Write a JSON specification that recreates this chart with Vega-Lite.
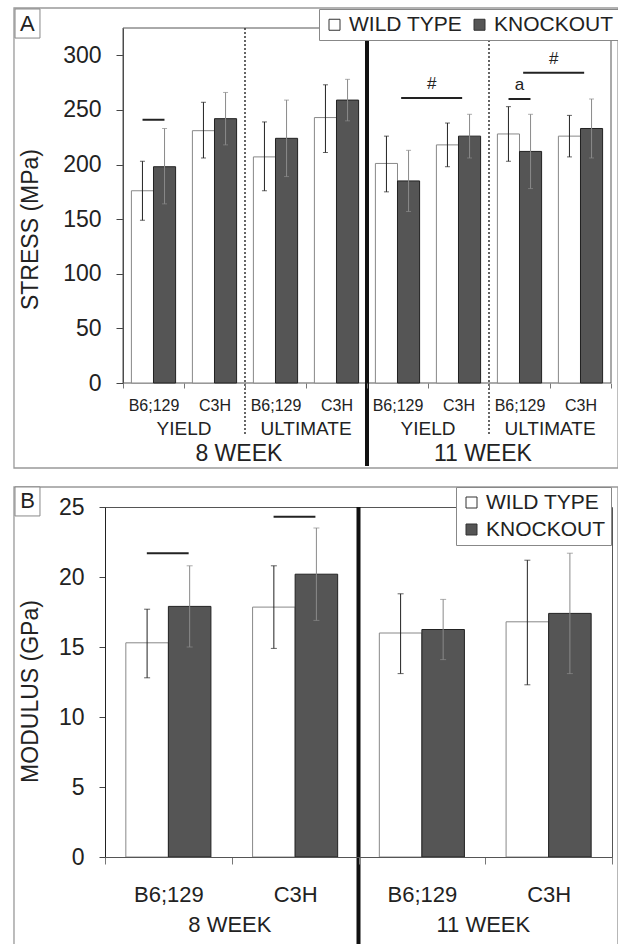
{
  "$schema": "https://vega.github.io/schema/vega-lite/v6.json",
  "padding": {"left": 12, "top": 7, "right": 2, "bottom": 0},
  "autosize": {"type": "pad"},
  "background": "white",
  "spacing": 16,
  "config": {
    "font": "Liberation Sans",
    "view": {"stroke": "#555", "strokeWidth": 1},
    "axis": {"grid": false, "labelColor": "#222", "titleColor": "#222", "titleFontWeight": "normal"},
    "text": {"color": "#222"}
  },
  "resolve": {
    "scale": {"x": "independent", "y": "independent", "xOffset": "independent", "fill": "independent"},
    "axis": {"x": "independent", "y": "independent"},
    "legend": {"fill": "independent"}
  },
  "datasets": {
    "barsA": [
      {"group": "8 WEEK|YIELD|B6;129", "genotype": "WILD TYPE", "stress": 176, "lo": 149, "hi": 203},
      {"group": "8 WEEK|YIELD|B6;129", "genotype": "KNOCKOUT", "stress": 198, "lo": 164, "hi": 233},
      {"group": "8 WEEK|YIELD|C3H", "genotype": "WILD TYPE", "stress": 231, "lo": 206, "hi": 257},
      {"group": "8 WEEK|YIELD|C3H", "genotype": "KNOCKOUT", "stress": 242, "lo": 218, "hi": 266},
      {"group": "8 WEEK|ULTIMATE|B6;129", "genotype": "WILD TYPE", "stress": 207, "lo": 176, "hi": 239},
      {"group": "8 WEEK|ULTIMATE|B6;129", "genotype": "KNOCKOUT", "stress": 224, "lo": 189, "hi": 259},
      {"group": "8 WEEK|ULTIMATE|C3H", "genotype": "WILD TYPE", "stress": 243, "lo": 211, "hi": 273},
      {"group": "8 WEEK|ULTIMATE|C3H", "genotype": "KNOCKOUT", "stress": 259, "lo": 240, "hi": 278},
      {"group": "11 WEEK|YIELD|B6;129", "genotype": "WILD TYPE", "stress": 201, "lo": 175, "hi": 226},
      {"group": "11 WEEK|YIELD|B6;129", "genotype": "KNOCKOUT", "stress": 185, "lo": 157, "hi": 213},
      {"group": "11 WEEK|YIELD|C3H", "genotype": "WILD TYPE", "stress": 218, "lo": 198, "hi": 238},
      {"group": "11 WEEK|YIELD|C3H", "genotype": "KNOCKOUT", "stress": 226, "lo": 206, "hi": 246},
      {"group": "11 WEEK|ULTIMATE|B6;129", "genotype": "WILD TYPE", "stress": 228, "lo": 203, "hi": 253},
      {"group": "11 WEEK|ULTIMATE|B6;129", "genotype": "KNOCKOUT", "stress": 212, "lo": 178, "hi": 246},
      {"group": "11 WEEK|ULTIMATE|C3H", "genotype": "WILD TYPE", "stress": 226, "lo": 207, "hi": 245},
      {"group": "11 WEEK|ULTIMATE|C3H", "genotype": "KNOCKOUT", "stress": 233, "lo": 206, "hi": 260}
    ],
    "frameA": [{"first": "8 WEEK|YIELD|B6;129", "last": "11 WEEK|ULTIMATE|C3H", "panel": "A"}],
    "dottedA": [{"group": "8 WEEK|ULTIMATE|B6;129"}, {"group": "11 WEEK|ULTIMATE|B6;129"}],
    "thickA": [{"group": "11 WEEK|YIELD|B6;129"}],
    "sigInA": [
      {"group": "8 WEEK|YIELD|B6;129", "level": 241, "label": ""},
      {"group": "11 WEEK|ULTIMATE|B6;129", "level": 260, "label": "a"}
    ],
    "sigBetweenA": [
      {"group": "11 WEEK|YIELD|B6;129", "group2": "11 WEEK|YIELD|C3H", "level": 261, "label": "#"},
      {"group": "11 WEEK|ULTIMATE|B6;129", "group2": "11 WEEK|ULTIMATE|C3H", "level": 284, "label": "#"}
    ],
    "measureA": [
      {"group": "8 WEEK|YIELD|C3H", "label": "YIELD"},
      {"group": "8 WEEK|ULTIMATE|C3H", "label": "ULTIMATE"},
      {"group": "11 WEEK|YIELD|C3H", "label": "YIELD"},
      {"group": "11 WEEK|ULTIMATE|C3H", "label": "ULTIMATE"}
    ],
    "weekA": [
      {"group": "8 WEEK|ULTIMATE|B6;129", "label": "8 WEEK"},
      {"group": "11 WEEK|ULTIMATE|B6;129", "label": "11 WEEK"}
    ],
    "barsB": [
      {"group": "8 WEEK|B6;129", "genotype": "WILD TYPE", "modulus": 15.3, "lo": 12.8, "hi": 17.7},
      {"group": "8 WEEK|B6;129", "genotype": "KNOCKOUT", "modulus": 17.9, "lo": 15.0, "hi": 20.8},
      {"group": "8 WEEK|C3H", "genotype": "WILD TYPE", "modulus": 17.85, "lo": 14.9, "hi": 20.8},
      {"group": "8 WEEK|C3H", "genotype": "KNOCKOUT", "modulus": 20.2, "lo": 16.9, "hi": 23.5},
      {"group": "11 WEEK|B6;129", "genotype": "WILD TYPE", "modulus": 16.0, "lo": 13.1, "hi": 18.8},
      {"group": "11 WEEK|B6;129", "genotype": "KNOCKOUT", "modulus": 16.25, "lo": 14.1, "hi": 18.4},
      {"group": "11 WEEK|C3H", "genotype": "WILD TYPE", "modulus": 16.8, "lo": 12.3, "hi": 21.2},
      {"group": "11 WEEK|C3H", "genotype": "KNOCKOUT", "modulus": 17.4, "lo": 13.1, "hi": 21.7}
    ],
    "frameB": [{"first": "8 WEEK|B6;129", "last": "11 WEEK|C3H", "panel": "B"}],
    "thickB": [{"group": "11 WEEK|B6;129"}],
    "sigInB": [
      {"group": "8 WEEK|B6;129", "level": 21.7},
      {"group": "8 WEEK|C3H", "level": 24.3}
    ],
    "weekB": [
      {"group": "8 WEEK|C3H", "label": "8 WEEK"},
      {"group": "11 WEEK|C3H", "label": "11 WEEK"}
    ]
  },
  "vconcat": [
    {
      "width": 506,
      "height": 355,
      "view": {"stroke": null},
      "layer": [
        {
          "data": {"name": "frameA"},
          "mark": {"type": "rect", "fill": "transparent", "stroke": "#999", "strokeWidth": 1.3},
          "encoding": {
            "x": {"field": "first", "type": "nominal", "bandPosition": -1.787, "title": null},
            "x2": {"field": "last", "bandPosition": 1.115},
            "y": {"datum": 343.3, "title": "STRESS (MPa)"},
            "y2": {"datum": -77.8}
          }
        },
        {
          "data": {"name": "frameA"},
          "mark": {"type": "rect", "fill": "transparent", "stroke": "#555", "strokeWidth": 1},
          "encoding": {
            "x": {"field": "first", "type": "nominal", "bandPosition": 0, "title": null},
            "x2": {"field": "last", "bandPosition": 1},
            "y": {"datum": 325, "title": "STRESS (MPa)"},
            "y2": {"datum": 0}
          }
        },
        {
          "data": {"name": "barsA"},
          "mark": {"type": "bar", "strokeWidth": 1},
          "encoding": {
            "x": {
              "field": "group", "type": "nominal", "title": null,
              "scale": {"domain": ["8 WEEK|YIELD|B6;129", "8 WEEK|YIELD|C3H", "8 WEEK|ULTIMATE|B6;129", "8 WEEK|ULTIMATE|C3H", "11 WEEK|YIELD|B6;129", "11 WEEK|YIELD|C3H", "11 WEEK|ULTIMATE|B6;129", "11 WEEK|ULTIMATE|C3H"], "paddingInner": 0, "paddingOuter": 0.1475, "align": 1},
              "axis": {"title": null, "domain": false, "labelExpr": "split(datum.value, '|')[2]", "tickBand": "extent", "labelAngle": 0, "labelAlign": "center", "labelFontSize": 16, "labelPadding": 9, "tickSize": 5, "tickColor": "#777", "labelBaseline": "top"}
            },
            "xOffset": {"field": "genotype", "type": "nominal", "scale": {"domain": ["WILD TYPE", "KNOCKOUT"], "paddingInner": 0, "paddingOuter": 0.38}},
            "y": {
              "field": "stress", "type": "quantitative", "title": "STRESS (MPa)",
              "scale": {"domain": [0, 325], "nice": false},
              "axis": {"title": "STRESS (MPa)", "offset": -18, "values": [0, 50, 100, 150, 200, 250, 300], "tickSize": 7, "labelPadding": 15, "labelFontSize": 23, "titleFontSize": 23, "titleBaseline": "alphabetic", "titleAlign": "center", "titleAngle": -90, "titleX": -86, "titleY": 201, "domainColor": "#444", "tickColor": "#444"}
            },
            "fill": {
              "field": "genotype", "type": "nominal",
              "scale": {"domain": ["WILD TYPE", "KNOCKOUT"], "range": ["#ffffff", "#555555"]},
              "legend": {"title": null, "orient": "none", "legendX": 214, "legendY": -19, "direction": "horizontal", "labelFontSize": 21, "labelColor": "#222", "symbolType": "square", "symbolSize": 121, "symbolStrokeColor": "#333", "symbolStrokeWidth": 1, "strokeColor": "#888", "fillColor": "white", "padding": 5, "columnPadding": 6, "labelOffset": 4}
            },
            "stroke": {"condition": {"test": "datum.genotype === 'KNOCKOUT'", "value": "#222"}, "value": "#888"}
          }
        },
        {
          "data": {"name": "barsA"},
          "mark": {"type": "rule", "strokeWidth": 1},
          "encoding": {
            "x": {"field": "group", "type": "nominal", "title": null},
            "xOffset": {"field": "genotype", "type": "nominal"},
            "y": {"field": "lo", "type": "quantitative", "title": "STRESS (MPa)"},
            "y2": {"field": "hi"},
            "color": {"condition": {"test": "datum.genotype === 'KNOCKOUT'", "value": "#8a8a8a"}, "value": "#222"}
          }
        },
        {
          "data": {"name": "barsA"},
          "mark": {"type": "tick", "size": 5, "thickness": 1},
          "encoding": {
            "x": {"field": "group", "type": "nominal", "title": null},
            "xOffset": {"field": "genotype", "type": "nominal"},
            "y": {"field": "hi", "type": "quantitative", "title": "STRESS (MPa)"},
            "color": {"condition": {"test": "datum.genotype === 'KNOCKOUT'", "value": "#8a8a8a"}, "value": "#222"}
          }
        },
        {
          "data": {"name": "barsA"},
          "mark": {"type": "tick", "size": 5, "thickness": 1},
          "encoding": {
            "x": {"field": "group", "type": "nominal", "title": null},
            "xOffset": {"field": "genotype", "type": "nominal"},
            "y": {"field": "lo", "type": "quantitative", "title": "STRESS (MPa)"},
            "color": {"condition": {"test": "datum.genotype === 'KNOCKOUT'", "value": "#8a8a8a"}, "value": "#222"}
          }
        },
        {
          "data": {"name": "dottedA"},
          "mark": {"type": "rule", "strokeDash": [2, 2], "strokeWidth": 1.5, "color": "#333"},
          "encoding": {
            "x": {"field": "group", "type": "nominal", "bandPosition": 0, "title": null},
            "y": {"datum": 325, "title": "STRESS (MPa)"},
            "y2": {"datum": -46.7}
          }
        },
        {
          "data": {"name": "thickA"},
          "mark": {"type": "rule", "strokeWidth": 4, "color": "#111"},
          "encoding": {
            "x": {"field": "group", "type": "nominal", "bandPosition": 0, "title": null},
            "y": {"datum": 325, "title": "STRESS (MPa)"},
            "y2": {"datum": -76}
          }
        },
        {
          "data": {"name": "sigInA"},
          "mark": {"type": "rule", "strokeWidth": 2, "color": "#222"},
          "encoding": {
            "x": {"field": "group", "type": "nominal", "bandPosition": 0.32, "title": null},
            "x2": {"field": "group", "bandPosition": 0.68},
            "y": {"field": "level", "type": "quantitative", "title": "STRESS (MPa)"}
          }
        },
        {
          "data": {"name": "sigInA"},
          "mark": {"type": "text", "fontSize": 17, "baseline": "bottom", "dy": -5},
          "encoding": {
            "x": {"field": "group", "type": "nominal", "bandPosition": 0.5, "title": null},
            "y": {"field": "level", "type": "quantitative", "title": "STRESS (MPa)"},
            "text": {"field": "label"}
          }
        },
        {
          "data": {"name": "sigBetweenA"},
          "mark": {"type": "rule", "strokeWidth": 2, "color": "#222"},
          "encoding": {
            "x": {"field": "group", "type": "nominal", "bandPosition": 0.56, "title": null},
            "x2": {"field": "group2", "bandPosition": 0.56},
            "y": {"field": "level", "type": "quantitative", "title": "STRESS (MPa)"}
          }
        },
        {
          "data": {"name": "sigBetweenA"},
          "mark": {"type": "text", "fontSize": 17, "baseline": "bottom", "dy": -5},
          "encoding": {
            "x": {"field": "group2", "type": "nominal", "bandPosition": 0.06, "title": null},
            "y": {"field": "level", "type": "quantitative", "title": "STRESS (MPa)"},
            "text": {"field": "label"}
          }
        },
        {
          "data": {"name": "measureA"},
          "mark": {"type": "text", "fontSize": 19, "baseline": "alphabetic", "dy": 52},
          "encoding": {
            "x": {"field": "group", "type": "nominal", "bandPosition": 0, "title": null},
            "y": {"datum": 0, "title": "STRESS (MPa)"},
            "text": {"field": "label"}
          }
        },
        {
          "data": {"name": "weekA"},
          "mark": {"type": "text", "fontSize": 23, "baseline": "alphabetic", "dy": 78},
          "encoding": {
            "x": {"field": "group", "type": "nominal", "bandPosition": -0.1, "title": null},
            "y": {"datum": 0, "title": "STRESS (MPa)"},
            "text": {"field": "label"}
          }
        },
        {
          "data": {"name": "frameA"},
          "mark": {"type": "rect", "fill": "white", "stroke": "#888", "strokeWidth": 1},
          "encoding": {
            "x": {"field": "first", "type": "nominal", "bandPosition": -1.77, "title": null},
            "x2": {"field": "first", "bandPosition": -1.361},
            "y": {"datum": 342.4, "title": "STRESS (MPa)"},
            "y2": {"datum": 315.8}
          }
        },
        {
          "data": {"name": "frameA"},
          "mark": {"type": "text", "fontSize": 22, "baseline": "middle", "align": "center"},
          "encoding": {
            "x": {"field": "first", "type": "nominal", "bandPosition": -1.566, "title": null},
            "y": {"datum": 329, "title": "STRESS (MPa)"},
            "text": {"field": "panel"}
          }
        }
      ]
    },
    {
      "width": 507,
      "height": 350,
      "layer": [
        {
          "data": {"name": "frameB"},
          "mark": {"type": "rect", "fill": "transparent", "stroke": "#999", "strokeWidth": 1.3},
          "encoding": {
            "x": {"field": "first", "type": "nominal", "bandPosition": -0.718, "title": null},
            "x2": {"field": "last", "bandPosition": 1.047},
            "y": {"datum": 26.43, "title": "MODULUS (GPa)"},
            "y2": {"datum": -6.5}
          }
        },
        {
          "data": {"name": "barsB"},
          "mark": {"type": "bar", "strokeWidth": 1},
          "encoding": {
            "x": {
              "field": "group", "type": "nominal", "title": null,
              "scale": {"domain": ["8 WEEK|B6;129", "8 WEEK|C3H", "11 WEEK|B6;129", "11 WEEK|C3H"], "paddingInner": 0, "paddingOuter": 0},
              "axis": {"title": null, "labelExpr": "split(datum.value, '|')[1]", "tickBand": "extent", "labelAngle": 0, "labelAlign": "center", "labelFontSize": 22, "labelPadding": 20, "tickSize": 7, "domainColor": "#555", "tickColor": "#777", "labelBaseline": "top"}
            },
            "xOffset": {"field": "genotype", "type": "nominal", "scale": {"domain": ["WILD TYPE", "KNOCKOUT"], "paddingInner": 0, "paddingOuter": 0.49}},
            "y": {
              "field": "modulus", "type": "quantitative", "title": "MODULUS (GPa)",
              "scale": {"domain": [0, 25], "nice": false},
              "axis": {"title": "MODULUS (GPa)", "values": [0, 5, 10, 15, 20, 25], "tickSize": 6, "labelPadding": 15, "labelFontSize": 23, "titleFontSize": 23, "titleBaseline": "alphabetic", "titleAlign": "center", "titleAngle": -90, "titleX": -68, "titleY": 184, "domainColor": "#222", "tickColor": "#444"}
            },
            "fill": {
              "field": "genotype", "type": "nominal",
              "scale": {"domain": ["WILD TYPE", "KNOCKOUT"], "range": ["#ffffff", "#555555"]},
              "legend": {"title": null, "orient": "none", "legendX": 351, "legendY": -20, "direction": "vertical", "labelFontSize": 21, "labelColor": "#222", "symbolType": "square", "symbolSize": 121, "symbolStrokeColor": "#333", "symbolStrokeWidth": 1, "strokeColor": "#888", "fillColor": "white", "padding": 5, "rowPadding": 5, "labelOffset": 4}
            },
            "stroke": {"condition": {"test": "datum.genotype === 'KNOCKOUT'", "value": "#222"}, "value": "#888"}
          }
        },
        {
          "data": {"name": "barsB"},
          "mark": {"type": "rule", "strokeWidth": 1},
          "encoding": {
            "x": {"field": "group", "type": "nominal", "title": null},
            "xOffset": {"field": "genotype", "type": "nominal"},
            "y": {"field": "lo", "type": "quantitative", "title": "MODULUS (GPa)"},
            "y2": {"field": "hi"},
            "color": {"condition": {"test": "datum.genotype === 'KNOCKOUT'", "value": "#8a8a8a"}, "value": "#222"}
          }
        },
        {
          "data": {"name": "barsB"},
          "mark": {"type": "tick", "size": 6, "thickness": 1},
          "encoding": {
            "x": {"field": "group", "type": "nominal", "title": null},
            "xOffset": {"field": "genotype", "type": "nominal"},
            "y": {"field": "hi", "type": "quantitative", "title": "MODULUS (GPa)"},
            "color": {"condition": {"test": "datum.genotype === 'KNOCKOUT'", "value": "#8a8a8a"}, "value": "#222"}
          }
        },
        {
          "data": {"name": "barsB"},
          "mark": {"type": "tick", "size": 6, "thickness": 1},
          "encoding": {
            "x": {"field": "group", "type": "nominal", "title": null},
            "xOffset": {"field": "genotype", "type": "nominal"},
            "y": {"field": "lo", "type": "quantitative", "title": "MODULUS (GPa)"},
            "color": {"condition": {"test": "datum.genotype === 'KNOCKOUT'", "value": "#8a8a8a"}, "value": "#222"}
          }
        },
        {
          "data": {"name": "thickB"},
          "mark": {"type": "rule", "strokeWidth": 4, "color": "#111"},
          "encoding": {
            "x": {"field": "group", "type": "nominal", "bandPosition": 0, "title": null},
            "y": {"datum": 25, "title": "MODULUS (GPa)"},
            "y2": {"datum": -6.5}
          }
        },
        {
          "data": {"name": "sigInB"},
          "mark": {"type": "rule", "strokeWidth": 2, "color": "#222"},
          "encoding": {
            "x": {"field": "group", "type": "nominal", "bandPosition": 0.33, "title": null},
            "x2": {"field": "group", "bandPosition": 0.66},
            "y": {"field": "level", "type": "quantitative", "title": "MODULUS (GPa)"}
          }
        },
        {
          "data": {"name": "weekB"},
          "mark": {"type": "text", "fontSize": 22, "baseline": "alphabetic", "dy": 75},
          "encoding": {
            "x": {"field": "group", "type": "nominal", "bandPosition": -0.015, "title": null},
            "y": {"datum": 0, "title": "MODULUS (GPa)"},
            "text": {"field": "label"}
          }
        },
        {
          "data": {"name": "frameB"},
          "mark": {"type": "rect", "fill": "white", "stroke": "#888", "strokeWidth": 1},
          "encoding": {
            "x": {"field": "first", "type": "nominal", "bandPosition": -0.71, "title": null},
            "x2": {"field": "first", "bandPosition": -0.513},
            "y": {"datum": 26.43, "title": "MODULUS (GPa)"},
            "y2": {"datum": 24.36}
          }
        },
        {
          "data": {"name": "frameB"},
          "mark": {"type": "text", "fontSize": 22, "baseline": "middle", "align": "center"},
          "encoding": {
            "x": {"field": "first", "type": "nominal", "bandPosition": -0.611, "title": null},
            "y": {"datum": 25.4, "title": "MODULUS (GPa)"},
            "text": {"field": "panel"}
          }
        }
      ]
    }
  ]
}
